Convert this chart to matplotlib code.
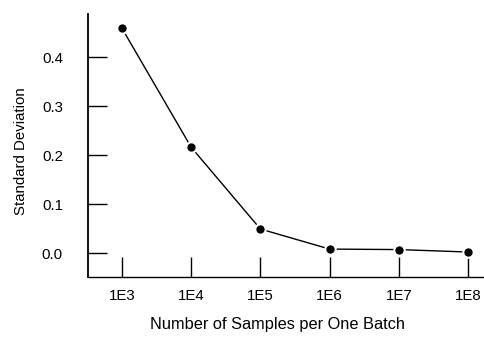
import matplotlib
matplotlib.use("Agg")
import matplotlib.pyplot as plt

categories = ["1E3", "1E4", "1E5", "1E6", "1E7", "1E8"]
std_dev = [0.459, 0.216, 0.049, 0.008, 0.007, 0.002]
y_ticks = [0.0, 0.1, 0.2, 0.3, 0.4]
y_tick_labels = ["0.0", "0.1", "0.2", "0.3", "0.4"]

plt.rcParams['font.family'] = ['Liberation Sans', 'DejaVu Sans']

fig = plt.figure(figsize=(4.84, 3.40), dpi=100)
ax = fig.add_axes([88/484, 63/340, 396/484, 263/340])

x = list(range(len(categories)))
ax.plot(x, std_dev, color='black', lw=1.0, marker='o', markersize=7.5,
        markerfacecolor='black', markeredgecolor='white', markeredgewidth=1.5,
        clip_on=False)

ax.set_xlim(-0.49, 5.23)
ax.set_ylim(-0.049, 0.488)

ax.set_xticks(x)
ax.set_xticklabels(categories, fontsize=10.8)
ax.set_yticks(y_ticks)
ax.set_yticklabels(y_tick_labels, fontsize=10.8)

ax.tick_params(axis='y', direction='in', length=13.5, width=1.0, pad=18)
ax.tick_params(axis='x', direction='in', length=14.5, width=1.0, pad=9)

for s in ['top', 'right']:
    ax.spines[s].set_visible(False)
ax.spines['left'].set_linewidth(1.3)
ax.spines['bottom'].set_linewidth(1.0)

ax.set_xlabel("Number of Samples per One Batch", fontsize=11.8)
ax.xaxis.set_label_coords(190/396, -40/263)
ax.set_ylabel("Standard Deviation", fontsize=10.8)
ax.yaxis.set_label_coords(-60/396, 0.48)

fig.savefig("out.png", dpi=100)
